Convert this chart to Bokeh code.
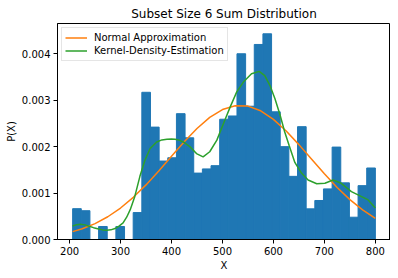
import numpy as np
from bokeh.plotting import figure
from bokeh.models import FixedTicker, NumeralTickFormatter, Range1d, Legend, LegendItem
from bokeh.embed import file_html
from bokeh.resources import INLINE

# ---- data ----
hist_min = 206.0
hist_max = 800.0
n_bins = 35
densities = [0.000664, 0.00062, 0.0, 0.00028, 0.0, 0.00028, 0.0, 0.00058,
             0.00317, 0.00242, 0.00169, 0.00176, 0.00271, 0.00219, 0.00143,
             0.00152, 0.00159, 0.00259, 0.00266, 0.00400, 0.00287, 0.00420,
             0.00443, 0.00275, 0.00200, 0.00136, 0.00243, 0.00066, 0.00084,
             0.00109, 0.00199, 0.00122, 0.00048, 0.00116, 0.00154]

normal_x = [206, 225, 250, 275, 300, 325, 350, 375, 400, 425, 450, 475, 500,
            525, 550, 575, 600, 625, 650, 675, 700, 725, 750, 775, 800]
normal_y = [0.000169, 0.000232, 0.000343, 0.000490, 0.000678, 0.000908,
            0.001176, 0.001476, 0.001792, 0.002104, 0.002390, 0.002629,
            0.002798, 0.002882, 0.002873, 0.002771, 0.002586, 0.002336,
            0.002043, 0.001728, 0.001414, 0.001120, 0.000859, 0.000637,
            0.000457]

kde_x = [206, 214, 221, 230, 237, 247, 257, 265, 273, 281, 289, 297, 305,
         312, 319, 328, 338, 348, 358, 371, 381, 391, 400, 407, 415, 423,
         436, 449, 462, 475, 489, 502, 515, 528, 541, 557, 572, 583, 593,
         603, 613, 622, 631, 642, 655, 668, 685, 701, 717, 733, 753, 772,
         785, 800]
kde_y = [0.000290, 0.000320, 0.000328, 0.000315, 0.000290, 0.000255,
         0.000225, 0.000207, 0.000200, 0.000208, 0.000236, 0.000290,
         0.000357, 0.000480, 0.000642, 0.000928, 0.001360, 0.001710,
         0.001960, 0.002100, 0.002145, 0.002160, 0.002162, 0.002158,
         0.002140, 0.002100, 0.002000, 0.001850, 0.001780, 0.001890,
         0.002140, 0.002500, 0.002850, 0.003180, 0.003390, 0.003570,
         0.003620, 0.003530, 0.003320, 0.003030, 0.002680, 0.002320,
         0.002020, 0.001660, 0.001430, 0.001280, 0.001200, 0.001210,
         0.001280, 0.001210, 0.001030, 0.000930, 0.000860, 0.000680]

x_ticks = [200, 300, 400, 500, 600, 700, 800]
y_ticks = [0.0, 0.001, 0.002, 0.003, 0.004]

title_text = "Subset Size 6 Sum Distribution"
x_label = "X"
y_label = "P(X)"
legend_labels = ["Normal Approximation", "Kernel-Density-Estimation"]

# ---- derived ----
edges = np.linspace(hist_min, hist_max, n_bins + 1)
span = hist_max - hist_min
x_lo = hist_min - 0.05 * span
x_hi = hist_max + 0.05 * span
y_hi = max(densities) * 1.05

FONT = "DejaVu Sans"

p = figure(width=390, height=273, output_backend="svg", toolbar_location=None,
           x_range=Range1d(x_lo, x_hi), y_range=Range1d(0, y_hi),
           min_border_left=57, min_border_right=0, min_border_top=23,
           min_border_bottom=33)

p.title.text = title_text
p.title.align = "center"
p.title.text_font = FONT
p.title.text_font_size = "12px"
p.title.text_font_style = "normal"
p.title.text_color = "black"
p.title.standoff = 6
p.title.offset = 0

p.quad(left=edges[:-1], right=edges[1:], top=densities, bottom=0,
       fill_color="#1f77b4", line_color="#1f77b4", line_width=1)

r1 = p.line(normal_x, normal_y, line_color="#ff7f0e", line_width=1.5)
r2 = p.line(kde_x, kde_y, line_color="#2ca02c", line_width=1.5)

p.xgrid.visible = False
p.ygrid.visible = False
p.outline_line_color = "black"
p.outline_line_width = 1
p.outline_line_alpha = 1

for ax in (p.xaxis[0], p.yaxis[0]):
    ax.major_label_text_font = FONT
    ax.major_label_text_font_size = "10px"
    ax.major_label_text_color = "black"
    ax.axis_label_text_font = FONT
    ax.axis_label_text_font_size = "10px"
    ax.axis_label_text_font_style = "normal"
    ax.axis_label_text_color = "black"
    ax.major_tick_in = 0
    ax.major_tick_out = 4
    ax.minor_tick_in = 0
    ax.minor_tick_out = 0
    ax.axis_line_color = "black"
    ax.major_tick_line_color = "black"
    ax.major_label_standoff = 3
    ax.axis_label_standoff = 2

p.xaxis[0].ticker = FixedTicker(ticks=x_ticks)
p.yaxis[0].ticker = FixedTicker(ticks=y_ticks)
p.yaxis[0].formatter = NumeralTickFormatter(format="0.000")
p.xaxis[0].axis_label = x_label
p.yaxis[0].axis_label = y_label

legend = Legend(items=[LegendItem(label=legend_labels[0], renderers=[r1]),
                       LegendItem(label=legend_labels[1], renderers=[r2])],
                location="top_left")
legend.label_text_font = FONT
legend.label_text_font_size = "10px"
legend.label_text_color = "black"
legend.label_height = 13
legend.glyph_height = 13
legend.glyph_width = 22
legend.label_standoff = 7
legend.spacing = 0
legend.padding = 3
legend.margin = 4
legend.border_line_color = "#cccccc"
legend.border_line_width = 1
legend.background_fill_alpha = 0.8
p.add_layout(legend)

open("out.html", "w").write(file_html(p, INLINE))
